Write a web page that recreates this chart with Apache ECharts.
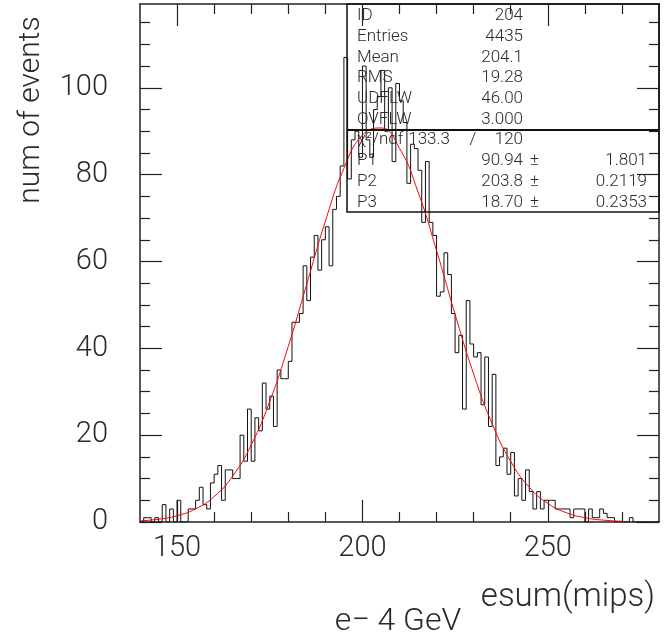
<!DOCTYPE html>
<html><head><meta charset="utf-8">
<script src="https://cdn.jsdelivr.net/npm/echarts@6/dist/echarts.min.js"></script>
<style>html,body{margin:0;padding:0;background:#fff}#c{width:665px;height:642px}</style>
</head><body><div id="c"></div>
<script>
// ---- data ----
const binLow = 140;
const binWidth = 1;
const counts = [
  0,1,1,0,1,0,4,0,3,0, 5,0,0,3,3,5,8,4,3,9,
  11,13,5,12,12,10,10,20,14,26, 14,24,21,32,26,29,22,35,33,33,
  37,46,46,48,59,51,61,66,58,65, 68,59,72,75,82,107,79,88,90,84,
  105,88,84,95,98,104,90,100,83,101, 97,92,78,87,86,81,69,83,69,66,
  52,53,62,57,48,39,43,26,51,41, 38,39,27,38,22,34,13,15,17,11,
  16,6,10,5,12,7,3,7,3,5, 5,5,3,3,3,3,1,3,3,3,
  0,3,1,1,3,2,1,1,0,0, 0,0,1,0,0,0,0,0,0,0
];
const fitX = [140,145,150,155,160,165,170,175,180,185,190,195,200,205,210,215,220,225,230,235,240,245,250,255,260,265,270];
const fitY = [0.27,0.65,1.45,3.02,5.85,10.57,17.76,27.78,40.46,54.87,69.26,81.41,89.09,90.75,86.07,76.01,62.49,47.83,34.08,22.61,13.97,8.03,4.30,2.14,0.99,0.43,0.17];
const xMajorTicks = [150,200,250];
const xMinorTicks = [160,170,180,190,210,220,230,240,260,270];
const yMajorTicks = [0,20,40,60,80,100];
const yMinorTicks = [5,10,15,25,30,35,45,50,55,65,70,75,85,90,95,105,110,115];
const statLabels = ['ID','Entries','Mean','RMS','UDFLW','OVFLW'];
const statValues = ['204','4435','204.1','19.28','46.00','3.000'];
const chiLabel = 'χ²/ndf';
const chiValue = '133.3';
const ndfValue = '120';
const parLabels = ['P1','P2','P3'];
const parValues = ['90.94','203.8','18.70'];
const parErrors = ['1.801','0.2119','0.2353'];
const xTitle = 'esum(mips)';
const yTitle = 'num of events';
const caption = 'e− 4 GeV';

// ---- build ----
const histData = [[binLow, 0]];
counts.forEach((c, i) => histData.push([binLow + i * binWidth, c]));
histData.push([binLow + counts.length * binWidth, counts[counts.length - 1]]);
histData.push([binLow + counts.length * binWidth, 0]);
const fitData = fitX.map((x, i) => [x, fitY[i]]);

const FONT = "Roboto, 'Liberation Sans', sans-serif";
const TXT = '#2a2a2a';
const GL = 140, GT = 4, GW = 519, GH = 518;
const lineCol = '#222';

function xAx(pos, ticks, len, withLine, labels) {
  return {
    type: 'value', position: pos, min: 140, max: 280, gridIndex: 0,
    axisLine: {show: withLine, onZero: false, lineStyle: {color: lineCol, width: 1.5}},
    axisTick: {show: true, inside: true, length: len, customValues: ticks, lineStyle: {color: lineCol, width: 1.2}},
    axisLabel: labels ? {show: true, customValues: ticks, fontFamily: FONT, fontWeight: 300, fontSize: 29, color: TXT, margin: 27, verticalAlign: 'middle'} : {show: false},
    splitLine: {show: false}
  };
}
function yAx(pos, ticks, len, withLine, labels) {
  return {
    type: 'value', position: pos, min: 0, max: 119.3, gridIndex: 0,
    axisLine: {show: withLine, onZero: false, lineStyle: {color: lineCol, width: 1.5}},
    axisTick: {show: true, inside: true, length: len, customValues: ticks, lineStyle: {color: lineCol, width: 1.2}},
    axisLabel: labels ? {show: true, customValues: ticks, fontFamily: FONT, fontWeight: 300, fontSize: 29, color: TXT, margin: 32, align: 'right', verticalAlign: 'middle'} : {show: false},
    splitLine: {show: false}
  };
}

const rowY0 = 16, rowDY = 20.7;
const tStyle = (extra) => Object.assign({fontFamily: FONT, fontWeight: 300, fontSize: 17, fill: TXT}, extra);
const graphics = [
  {type: 'rect', shape: {x: 347, y: GT, width: GL + GW - 347, height: 208}, style: {fill: 'none', stroke: '#111', lineWidth: 1.5}, z: 100},
  {type: 'line', shape: {x1: 347, y1: 130, x2: GL + GW, y2: 130}, style: {stroke: '#111', lineWidth: 2}, z: 100},
  {type: 'text', x: 31, y: 110, rotation: Math.PI / 2, style: tStyle({text: yTitle, fontSize: 30, align: 'center', verticalAlign: 'middle'}), z: 100},
  {type: 'text', x: 655, y: 598, style: tStyle({text: xTitle, fontSize: 33, align: 'right', verticalAlign: 'middle'}), z: 100},
  {type: 'text', x: 398, y: 622, style: tStyle({text: caption, fontSize: 32, align: 'center', verticalAlign: 'middle'}), z: 100}
];
statLabels.forEach((l, i) => {
  const y = rowY0 + rowDY * i;
  graphics.push({type: 'text', x: 357, y: y, style: tStyle({text: l, verticalAlign: 'middle'}), z: 100});
  graphics.push({type: 'text', x: 523, y: y, style: tStyle({text: statValues[i], align: 'right', verticalAlign: 'middle'}), z: 100});
});
{
  const y = rowY0 + rowDY * 6;
  graphics.push({type: 'text', x: 357, y: y, style: tStyle({text: chiLabel, verticalAlign: 'middle'}), z: 100});
  graphics.push({type: 'text', x: 450, y: y, style: tStyle({text: chiValue, align: 'right', verticalAlign: 'middle'}), z: 100});
  graphics.push({type: 'text', x: 473, y: y, style: tStyle({text: '/', align: 'center', verticalAlign: 'middle'}), z: 100});
  graphics.push({type: 'text', x: 523, y: y, style: tStyle({text: ndfValue, align: 'right', verticalAlign: 'middle'}), z: 100});
}
parLabels.forEach((l, i) => {
  const y = rowY0 + rowDY * (7 + i);
  graphics.push({type: 'text', x: 357, y: y, style: tStyle({text: l, verticalAlign: 'middle'}), z: 100});
  graphics.push({type: 'text', x: 523, y: y, style: tStyle({text: parValues[i], align: 'right', verticalAlign: 'middle'}), z: 100});
  graphics.push({type: 'text', x: 530, y: y, style: tStyle({text: '±', verticalAlign: 'middle'}), z: 100});
  graphics.push({type: 'text', x: 647, y: y, style: tStyle({text: parErrors[i], align: 'right', verticalAlign: 'middle'}), z: 100});
});

const chart = echarts.init(document.getElementById('c'), null, {renderer: 'canvas'});
chart.setOption({
  animation: false,
  backgroundColor: '#fff',
  grid: {left: GL, top: GT, width: GW, height: GH, containLabel: false},
  xAxis: [
    xAx('bottom', xMajorTicks, 22, true, true),
    xAx('bottom', xMinorTicks, 10, false, false),
    xAx('top', xMajorTicks, 22, true, false),
    xAx('top', xMinorTicks, 10, false, false)
  ],
  yAxis: [
    yAx('left', yMajorTicks, 22, true, true),
    yAx('left', yMinorTicks, 10, false, false),
    yAx('right', yMajorTicks, 22, true, false),
    yAx('right', yMinorTicks, 10, false, false)
  ],
  series: [
    {type: 'line', name: 'hist', xAxisIndex: 0, yAxisIndex: 0, step: 'end', data: histData, symbol: 'none',
     lineStyle: {color: '#111', width: 1}, z: 5},
    {type: 'line', name: 'fit', xAxisIndex: 0, yAxisIndex: 0, smooth: true, data: fitData, symbol: 'none',
     lineStyle: {color: '#ff0000', width: 1}, z: 6}
  ],
  graphic: graphics
});
</script></body></html>
